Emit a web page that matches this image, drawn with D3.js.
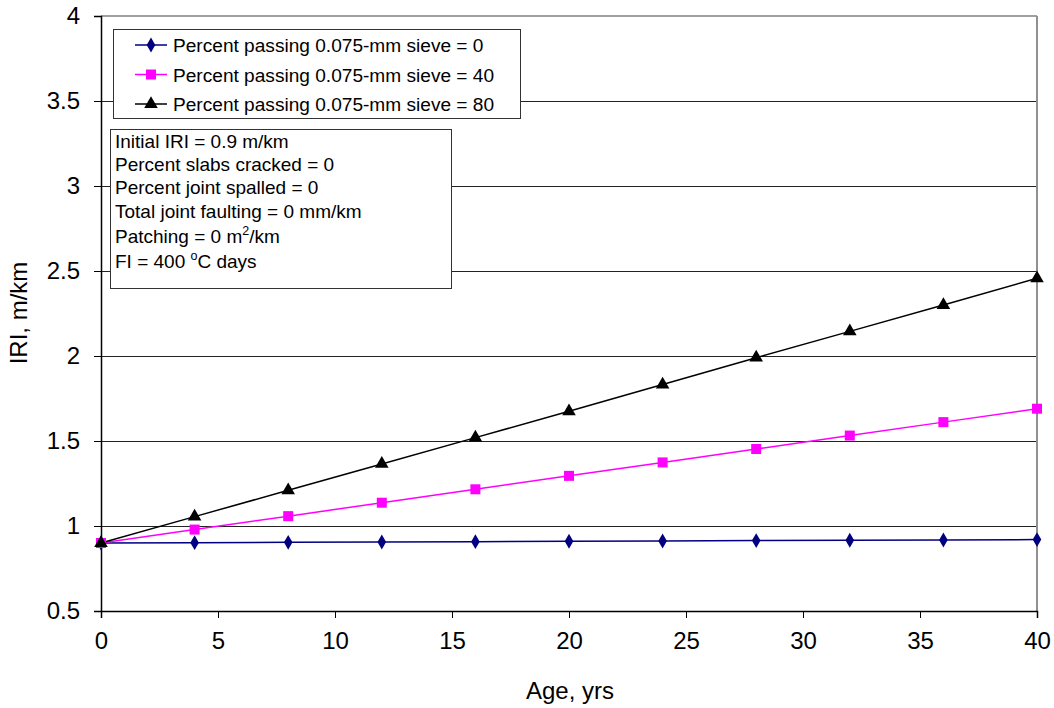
<!DOCTYPE html>
<html>
<head>
<meta charset="utf-8">
<script src="https://cdn.jsdelivr.net/npm/d3@7"></script>
<style>
  html, body { margin: 0; padding: 0; background: #fff; }
  svg { display: block; font-family: Arial, "Liberation Sans", sans-serif; }
</style>
</head>
<body>
<svg id="chart" width="1054" height="708"></svg>
<script>
// Age in years
const ages = [0, 4, 8, 12, 16, 20, 24, 28, 32, 36, 40];
// IRI (m/km) for each fines content
const iriFines0  = [0.900, 0.902, 0.904, 0.906, 0.908, 0.910, 0.912, 0.914, 0.916, 0.918, 0.920];
const iriFines40 = [0.900, 0.979, 1.058, 1.137, 1.216, 1.295, 1.374, 1.453, 1.532, 1.611, 1.690];
const iriFines80 = [0.900, 1.055, 1.210, 1.365, 1.520, 1.675, 1.832, 1.990, 2.145, 2.300, 2.457];
const seriesNames = [
  "Percent passing 0.075-mm sieve = 0",
  "Percent passing 0.075-mm sieve = 40",
  "Percent passing 0.075-mm sieve = 80"
];
const xTicks = [0, 5, 10, 15, 20, 25, 30, 35, 40];
const yTicks = [0.5, 1, 1.5, 2, 2.5, 3, 3.5, 4];

const svg = d3.select("#chart");
const plotLeft = 101, plotRight = 1037, plotTop = 16, plotBottom = 611;

const x = d3.scaleLinear().domain([0, 40]).range([plotLeft, plotRight]);
const y = d3.scaleLinear().domain([0.5, 4]).range([plotBottom, plotTop]);

// horizontal gridlines
svg.append("g").selectAll("line").data(yTicks.filter(v => v > 0.5 && v < 4)).join("line")
  .attr("x1", plotLeft).attr("x2", plotRight)
  .attr("y1", d => y(d)).attr("y2", d => y(d))
  .attr("stroke", "#222").attr("stroke-width", 1).attr("shape-rendering", "crispEdges");

// plot area frame (top and right)
svg.append("line").attr("x1", plotLeft).attr("x2", plotRight).attr("y1", plotTop).attr("y2", plotTop)
  .attr("stroke", "#808080").attr("stroke-width", 1.5);
svg.append("line").attr("x1", plotRight).attr("x2", plotRight).attr("y1", plotTop).attr("y2", plotBottom)
  .attr("stroke", "#909090").attr("stroke-width", 2);

// axes
const yAxis = svg.append("g").attr("transform", `translate(${plotLeft},0)`)
  .call(d3.axisLeft(y).tickValues(yTicks).tickSize(7).tickPadding(14).tickFormat(d3.format("")));
const xAxis = svg.append("g").attr("transform", `translate(0,${plotBottom})`)
  .call(d3.axisBottom(x).tickValues(xTicks).tickSize(7).tickPadding(14).tickFormat(d3.format("")));
[xAxis, yAxis].forEach(g => {
  g.select(".domain").attr("stroke", "#000").attr("stroke-width", 1.5);
  g.selectAll(".tick line").attr("stroke", "#000");
  g.selectAll(".tick text").attr("font-size", 24).attr("fill", "#000")
    .attr("font-family", "Arial, 'Liberation Sans', sans-serif");
});

// axis titles
svg.append("text").attr("x", 570).attr("y", 699).attr("text-anchor", "middle")
  .attr("font-size", 24).text("Age, yrs");
svg.append("text").attr("transform", "translate(27,313) rotate(-90)").attr("text-anchor", "middle")
  .attr("font-size", 24).text("IRI, m/km");

const series = [
  { name: seriesNames[0], values: iriFines0,  color: "#000080", symbol: d3.symbolDiamond, size: 64 },
  { name: seriesNames[1], values: iriFines40, color: "#FF00FF", symbol: d3.symbolSquare,  size: 100 },
  { name: seriesNames[2], values: iriFines80, color: "#000000", symbol: d3.symbolTriangle, size: 80 }
];

const line = d3.line().x((d, i) => x(ages[i])).y(d => y(d));

series.forEach(s => {
  svg.append("path").datum(s.values).attr("d", line)
    .attr("fill", "none").attr("stroke", s.color).attr("stroke-width", 1.5);
});
series.forEach(s => {
  svg.append("g").selectAll("path").data(s.values).join("path")
    .attr("transform", (d, i) => `translate(${x(ages[i])},${y(d)})`)
    .attr("d", d3.symbol().type(s.symbol).size(s.size))
    .attr("fill", s.color);
});

// legend
const lg = svg.append("g");
lg.append("rect").attr("x", 113.5).attr("y", 29.5).attr("width", 407).attr("height", 89)
  .attr("fill", "#fff").attr("stroke", "#333").attr("stroke-width", 1);
series.forEach((s, i) => {
  const cy = 45 + i * 29.5;
  lg.append("line").attr("x1", 135).attr("x2", 167).attr("y1", cy).attr("y2", cy)
    .attr("stroke", s.color).attr("stroke-width", 1.5);
  lg.append("path").attr("transform", `translate(151,${cy})`)
    .attr("d", d3.symbol().type(s.symbol).size(s.size)).attr("fill", s.color);
  lg.append("text").attr("x", 173).attr("y", cy + 7).attr("font-size", 19.1).text(s.name);
});

// conditions box
const notes = svg.append("g");
notes.append("rect").attr("x", 110.5).attr("y", 129.5).attr("width", 341).attr("height", 159)
  .attr("fill", "#fff").attr("stroke", "#333").attr("stroke-width", 1);
const noteLines = [
  { y: 148, parts: [["Initial IRI = 0.9 m/km"]] },
  { y: 171, parts: [["Percent slabs cracked = 0"]] },
  { y: 194, parts: [["Percent joint spalled = 0"]] },
  { y: 218, parts: [["Total joint faulting = 0 mm/km"]] },
  { y: 243, parts: [["Patching = 0 m"], ["2", "sup"], ["/km"]] },
  { y: 268, parts: [["FI = 400 "], ["o", "sup"], ["C days"]] }
];
noteLines.forEach(l => {
  const t = notes.append("text").attr("x", 115).attr("y", l.y).attr("font-size", 19);
  l.parts.forEach(p => {
    const ts = t.append("tspan").text(p[0]);
    if (p[1] === "sup") ts.attr("font-size", 12.5).attr("dy", -8);
    else if (t.selectAll("tspan").size() > 1) ts.attr("dy", 8);
  });
});
</script>
</body>
</html>
